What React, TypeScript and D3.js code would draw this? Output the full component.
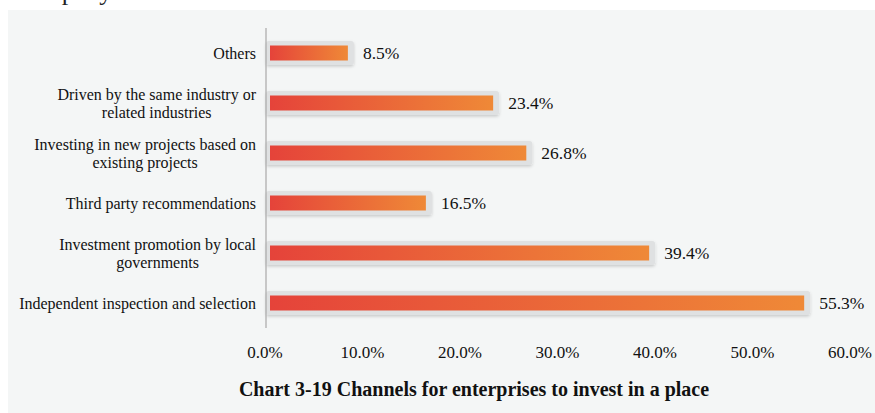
import React from "react";
import * as d3 from "d3";

const categories = [
  "Others",
  "Driven by the same industry or related industries",
  "Investing in new projects based on existing projects",
  "Third party recommendations",
  "Investment promotion by local governments",
  "Independent inspection and selection",
];
const categoryLines = [
  ["Others"],
  ["Driven by the same industry or", "related industries"],
  ["Investing in new projects based on", "existing projects"],
  ["Third party recommendations"],
  ["Investment promotion by local", "governments"],
  ["Independent inspection and selection"],
];
const values = [8.5, 23.4, 26.8, 16.5, 39.4, 55.3];
const xTicks = [0, 10, 20, 30, 40, 50, 60];
const title = "Chart 3-19 Channels for enterprises to invest in a place";
const topFragment = "company";

const W = 875;
const H = 413;
const FONT = "'Liberation Serif', 'Times New Roman', serif";

function measure(text: string, size: number, weight = "normal") {
  const c = document.createElement("canvas").getContext("2d");
  if (!c) return text.length * size * 0.45;
  c.font = `${weight} ${size}px 'Liberation Serif'`;
  return c.measureText(text).width;
}

export default function App() {
  const x = d3.scaleLinear().domain([0, 60]).range([265, 850]);
  const y = d3.scaleBand<string>().domain(categories).range([28, 328]);
  const fmt = d3.format(".1f");
  const labelRight = 256;
  const catSize = 16;

  return (
    <svg
      width={W}
      height={H}
      style={{ position: "absolute", left: 0, top: 0, display: "block" }}
      fontFamily={FONT}
    >
      <defs>
        <linearGradient id="barGrad" x1="0" y1="0" x2="1" y2="0">
          <stop offset="0%" stopColor="#e5433a" />
          <stop offset="100%" stopColor="#ef8937" />
        </linearGradient>
        <filter id="shadow" x="-10%" y="-50%" width="120%" height="200%">
          <feDropShadow dx="0" dy="1.5" stdDeviation="1.5" floodColor="#000" floodOpacity="0.18" />
        </filter>
      </defs>
      <rect x={0} y={0} width={W} height={H} fill="#ffffff" />
      <text x={17} y={0} fontSize={26} fill="#222">
        {topFragment}
      </text>
      <rect x={8} y={10} width={W - 8} height={H - 10} fill="#f4f6f6" />

      {categories.map((cat, i) => {
        const cy = (y(cat) as number) + y.bandwidth() / 2;
        const v = values[i];
        const lines = categoryLines[i];
        const maxW = Math.max(...lines.map((l) => measure(l, catSize)));
        const mid = labelRight - maxW / 2;
        return (
          <g key={cat}>
            <rect
              x={x(0) + 1}
              y={cy - 12}
              width={x(v) + 6 - (x(0) + 1)}
              height={24}
              rx={3}
              fill="#dfe1e2"
              filter="url(#shadow)"
            />
            <rect
              x={x(0) + 5}
              y={cy - 7.5}
              width={x(v) - (x(0) + 5)}
              height={15}
              fill="url(#barGrad)"
            />
            <text x={x(v) + 15} y={cy + 6} fontSize={17.5} fill="#111">
              {fmt(v)}%
            </text>
            {lines.length === 1 ? (
              <text x={labelRight} y={cy + 6} fontSize={catSize} textAnchor="end" fill="#111">
                {lines[0]}
              </text>
            ) : (
              lines.map((l, j) => (
                <text
                  key={j}
                  x={mid}
                  y={cy - 3 + j * 18}
                  fontSize={catSize}
                  textAnchor="middle"
                  fill="#111"
                >
                  {l}
                </text>
              ))
            )}
          </g>
        );
      })}

      <line x1={266} x2={266} y1={28} y2={328} stroke="#a8a8a8" strokeWidth={1.2} />

      {xTicks.map((t) => (
        <text key={t} x={x(t)} y={357.5} fontSize={17} textAnchor="middle" fill="#111">
          {fmt(t)}%
        </text>
      ))}

      <text x={474} y={396} fontSize={20} fontWeight="bold" textAnchor="middle" fill="#111">
        {title}
      </text>
    </svg>
  );
}
